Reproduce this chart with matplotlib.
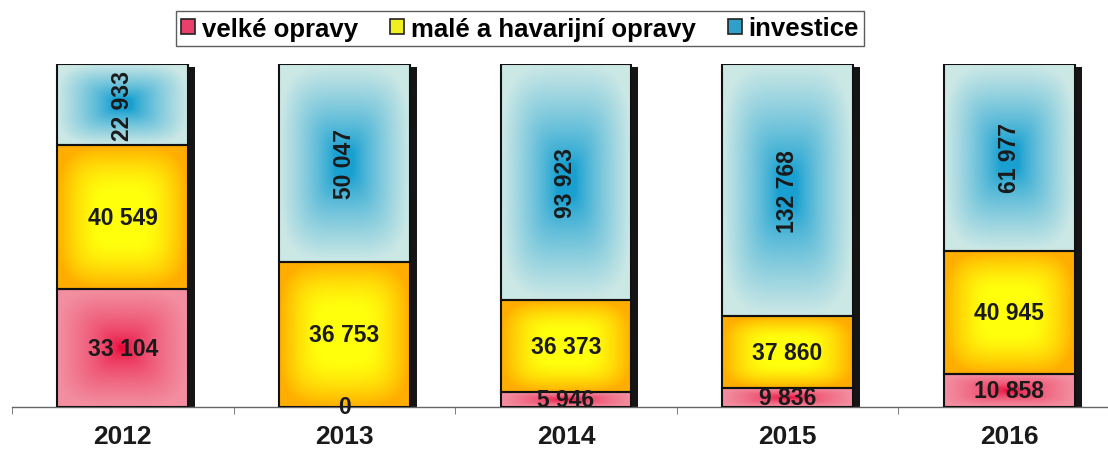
import numpy as np
import matplotlib
matplotlib.use("Agg")
import matplotlib.pyplot as plt
from matplotlib.patches import Rectangle, Patch

roky = ['2012', '2013', '2014', '2015', '2016']
velke = [33104, 0, 5946, 9836, 10858]
male = [40549, 36753, 36373, 37860, 40945]
investice = [22933, 50047, 93923, 132768, 61977]

serie = ['velké opravy', 'malé a havarijní opravy', 'investice']
# (centre colour, edge colour, legend colour, gradient start, gradient power)
barvy = [((0.92, 0.05, 0.24), (0.95, 0.56, 0.63), '#e8406a', 0.05, 0.6),
         ((1.00, 1.00, 0.05), (1.00, 0.68, 0.00), '#f0f020', 0.35, 1.5),
         ((0.10, 0.63, 0.82), (0.80, 0.91, 0.90), '#30a0c8', 0.15, 0.8)]

plt.rcParams['font.family'] = ['Liberation Sans', 'DejaVu Sans']
plt.rcParams['font.weight'] = 'bold'

fig = plt.figure(figsize=(11.08, 4.52), dpi=100)
ax = fig.add_axes([12 / 1108, 44 / 452, 1108 / 1108, 343 / 452])


def gradient(c_in, c_out, start, power, n=120):
    u = np.linspace(-1, 1, n)
    uu, vv = np.meshgrid(u, u)
    t = (np.abs(uu) ** 4 + np.abs(vv) ** 4) ** 0.25
    t = np.clip((t - start) / (1.0 - start), 0, 1) ** power
    c_in = np.array(c_in)
    c_out = np.array(c_out)
    return c_in[None, None, :] * (1 - t[..., None]) + c_out[None, None, :] * t[..., None]


sirka = 0.59
data = np.array([velke, male, investice], dtype=float)
podil = data / data.sum(axis=0)

for i in range(len(roky)):
    x0 = i - sirka / 2
    # shadow
    ax.add_patch(Rectangle((x0 + 0.032, -0.008), sirka, 0.999,
                           facecolor='#151515', edgecolor='none', zorder=1))
    dole = 0.0
    for s in range(3):
        h = podil[s, i]
        if h > 0:
            img = gradient(barvy[s][0], barvy[s][1], barvy[s][3], barvy[s][4])
            ax.imshow(img, extent=(x0, x0 + sirka, dole, dole + h),
                      aspect='auto', origin='lower', zorder=2,
                      interpolation='bilinear')
            ax.add_patch(Rectangle((x0, dole), sirka, h, fill=False,
                                   edgecolor='#111111', lw=1.5, zorder=3))
        txt = '{:,}'.format(int(data[s, i])).replace(',', ' ')
        rot = 90 if s == 2 else 0
        ax.text(i, dole + h / 2, txt, ha='center', va='center', rotation=rot,
                fontsize=16.5, fontweight='bold', color='#1a1a1a', zorder=4)
        dole += h

ax.set_xlim(-0.5, 4.5)
ax.set_ylim(0, 1)
ax.set_aspect('auto')

for side in ['left', 'right', 'top']:
    ax.spines[side].set_visible(False)
ax.spines['bottom'].set_color('#666666')
ax.spines['bottom'].set_linewidth(1.0)
ax.set_yticks([])
ax.set_xticks(range(len(roky)))
ax.set_xticklabels(roky, fontsize=19, fontweight='bold', color='#1a1a1a')
ax.tick_params(axis='x', which='major', length=0, pad=12)
ax.set_xticks(np.arange(-0.5, 4.6, 1), minor=True)
ax.tick_params(axis='x', which='minor', length=5, color='#666666')

handles = [Patch(facecolor=b[2], edgecolor='#222222', lw=1.2) for b in barvy]
leg = fig.legend(handles, serie, loc='center', bbox_to_anchor=(520 / 1108, 1 - 29.5 / 452),
                 ncol=3, frameon=True, fancybox=False, fontsize=18.5,
                 handlelength=0.55, handleheight=0.55, handletextpad=0.25,
                 columnspacing=1.25, borderpad=0.2)
leg.get_frame().set_edgecolor('#333333')
leg.get_frame().set_linewidth(1.0)

fig.savefig('out.png', dpi=100)
